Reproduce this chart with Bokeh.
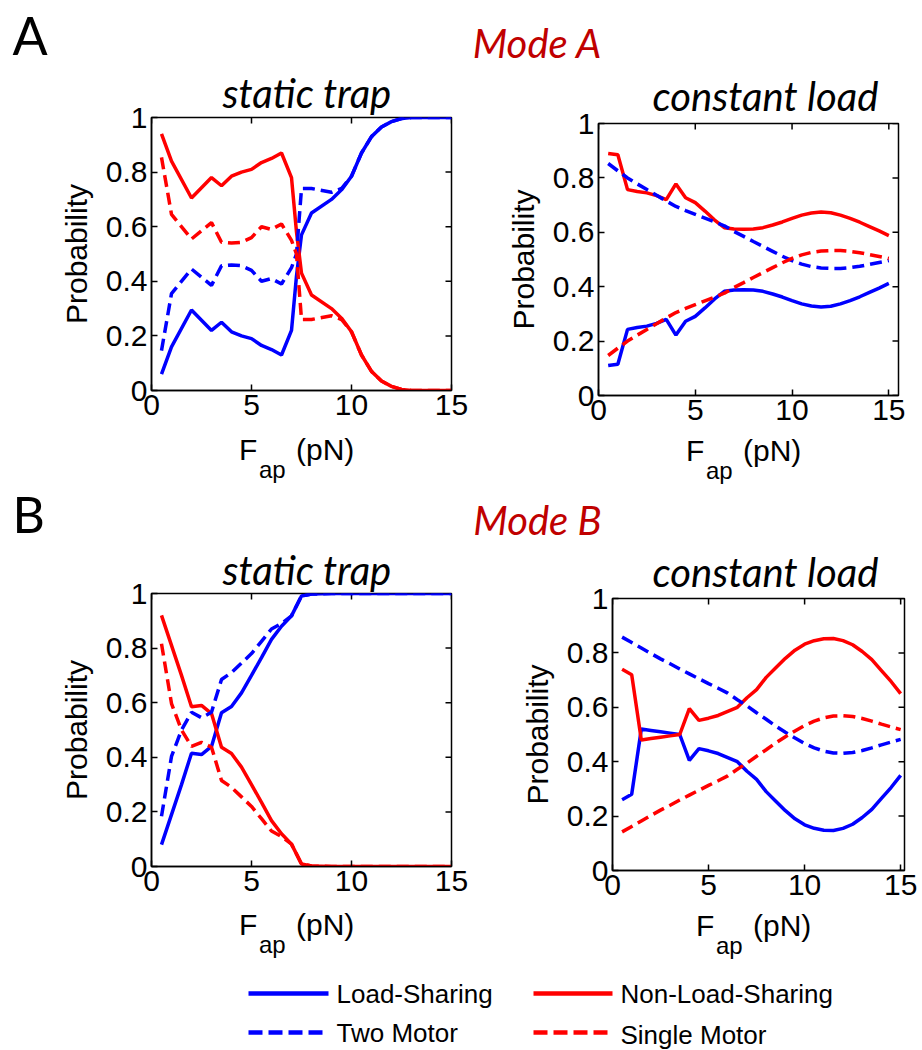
from bokeh.plotting import figure
from bokeh.layouts import column, row
from bokeh.models import Range1d, FixedTicker, LinearAxis, Title
from bokeh.core.properties import value
from bokeh.embed import file_html
from bokeh.resources import INLINE

# ---------------- data ----------------
x_a_static = [0.5, 1, 2, 3, 3.5, 4, 4.5, 5, 5.5, 6, 6.5, 7, 7.25, 7.5, 8, 9, 9.5, 10,
              10.5, 11, 11.5, 12, 12.5, 13, 14, 15]
a_static_ls = [0.06, 0.16, 0.295, 0.22, 0.25, 0.215, 0.20, 0.19, 0.165, 0.15, 0.13, 0.22, 0.42,
               0.57, 0.65, 0.70, 0.735, 0.785, 0.87, 0.93, 0.965, 0.985, 0.996, 1.0, 1.0, 1.0]
a_static_nls = [0.94, 0.84, 0.705, 0.78, 0.75, 0.785, 0.80, 0.81, 0.835, 0.85, 0.87, 0.78, 0.58,
                0.43, 0.35, 0.30, 0.265, 0.215, 0.13, 0.07, 0.035, 0.015, 0.004, 0.0, 0.0, 0.0]
a_static_two = [0.146, 0.355, 0.445, 0.385, 0.457, 0.46, 0.457, 0.44, 0.40, 0.41, 0.39, 0.45, 0.50,
                0.74, 0.74, 0.726, 0.74, 0.785, 0.87, 0.93, 0.965, 0.985, 0.996, 1.0, 1.0, 1.0]
a_static_single = [0.854, 0.645, 0.555, 0.615, 0.543, 0.54, 0.543, 0.56, 0.60, 0.59, 0.61, 0.55, 0.50,
                   0.26, 0.26, 0.274, 0.26, 0.215, 0.13, 0.07, 0.035, 0.015, 0.004, 0.0, 0.0, 0.0]

x_const = [0.5, 1, 1.5, 2, 2.5, 3, 3.5, 4, 4.5, 5, 5.5, 6, 6.5, 7, 7.5, 8, 8.5, 9, 9.5, 10,
           10.5, 11, 11.5, 12, 12.5, 13, 13.5, 14, 14.5, 15]
a_const_ls = [0.11, 0.115, 0.243, 0.25, 0.255, 0.265, 0.28, 0.222, 0.273, 0.291, 0.322, 0.355,
              0.383, 0.388, 0.389, 0.388, 0.383, 0.373, 0.362, 0.349, 0.337, 0.329, 0.325, 0.328,
              0.337, 0.349, 0.363, 0.379, 0.395, 0.412]
a_const_nls = [0.89, 0.885, 0.757, 0.75, 0.745, 0.735, 0.72, 0.778, 0.727, 0.709, 0.678, 0.645,
               0.617, 0.612, 0.611, 0.612, 0.617, 0.627, 0.638, 0.651, 0.663, 0.671, 0.675, 0.672,
               0.663, 0.651, 0.637, 0.621, 0.605, 0.588]
a_const_two = [0.853, 0.826, 0.80, 0.778, 0.757, 0.736, 0.715, 0.695, 0.68, 0.666, 0.652, 0.638,
               0.624, 0.603, 0.585, 0.566, 0.548, 0.53, 0.512, 0.496, 0.483, 0.474, 0.469, 0.467,
               0.467, 0.47, 0.475, 0.482, 0.489, 0.496]
a_const_single = [0.147, 0.174, 0.20, 0.222, 0.243, 0.264, 0.285, 0.305, 0.32, 0.334, 0.348, 0.362,
                  0.376, 0.397, 0.415, 0.434, 0.452, 0.47, 0.488, 0.504, 0.517, 0.526, 0.531, 0.533,
                  0.533, 0.53, 0.525, 0.518, 0.511, 0.504]

x_b_static = [0.5, 1, 1.5, 2, 2.5, 3, 3.5, 4, 4.5, 5, 5.5, 6, 6.5, 7, 7.5, 8, 9, 10, 11, 12,
              13, 14, 15]
b_static_ls = [0.08, 0.19, 0.30, 0.415, 0.41, 0.44, 0.563, 0.586, 0.636, 0.70, 0.765, 0.832, 0.88,
               0.918, 0.991, 0.998, 1.0, 1.0, 1.0, 1.0, 1.0, 1.0, 1.0]
b_static_nls = [0.92, 0.81, 0.70, 0.585, 0.59, 0.56, 0.437, 0.414, 0.364, 0.30, 0.235, 0.168, 0.12,
                0.082, 0.009, 0.002, 0.0, 0.0, 0.0, 0.0, 0.0, 0.0, 0.0]
b_static_two = [0.184, 0.403, 0.50, 0.565, 0.545, 0.565, 0.685, 0.71, 0.745, 0.78, 0.825, 0.87, 0.89,
                0.918, 0.991, 0.998, 1.0, 1.0, 1.0, 1.0, 1.0, 1.0, 1.0]
b_static_single = [0.816, 0.597, 0.50, 0.44, 0.455, 0.437, 0.315, 0.29, 0.255, 0.22, 0.175, 0.13,
                   0.11, 0.082, 0.009, 0.002, 0.0, 0.0, 0.0, 0.0, 0.0, 0.0, 0.0]

b_const_ls = [0.26, 0.28, 0.52, 0.515, 0.51, 0.505, 0.50, 0.405, 0.448, 0.44, 0.43, 0.415, 0.40,
              0.365, 0.335, 0.29, 0.255, 0.22, 0.19, 0.168, 0.155, 0.148, 0.147, 0.155, 0.17,
              0.195, 0.225, 0.265, 0.305, 0.35]
b_const_nls = [0.74, 0.72, 0.48, 0.485, 0.49, 0.495, 0.50, 0.595, 0.552, 0.56, 0.57, 0.585, 0.60,
               0.635, 0.665, 0.71, 0.745, 0.78, 0.81, 0.832, 0.845, 0.852, 0.853, 0.845, 0.83,
               0.805, 0.775, 0.735, 0.695, 0.65]
b_const_two = [0.858, 0.838, 0.818, 0.798, 0.778, 0.76, 0.741, 0.723, 0.705, 0.687, 0.67, 0.652,
               0.628, 0.605, 0.58, 0.556, 0.531, 0.508, 0.487, 0.467, 0.451, 0.439, 0.432, 0.431,
               0.434, 0.441, 0.451, 0.462, 0.472, 0.482]
b_const_single = [0.142, 0.162, 0.182, 0.202, 0.222, 0.24, 0.259, 0.277, 0.295, 0.313, 0.33, 0.348,
                  0.372, 0.395, 0.42, 0.444, 0.469, 0.492, 0.513, 0.533, 0.549, 0.561, 0.568, 0.569,
                  0.566, 0.559, 0.549, 0.538, 0.528, 0.518]

y_ticks = [0, 0.2, 0.4, 0.6, 0.8, 1]
y_tick_labels = ["0", "0.2", "0.4", "0.6", "0.8", "1"]
x_ticks = [0, 5, 10, 15]
series_names = ["Load-Sharing", "Non-Load-Sharing", "Two Motor", "Single Motor"]
panel_titles = ["static trap", "constant load"]
mode_titles = ["Mode A", "Mode B"]
panel_letters = ["A", "B"]

# ---------------- styles ----------------
AX_FONT = "Liberation Sans"
TI_FONT = "Lato"
BLUE = "#0000ff"
RED = "#ff0000"
DASH = "12 6"
LW = 3.5
TICK = 6
W = 922


def blank_fig(w, h):
    p = figure(width=w, height=h, x_range=Range1d(0, w), y_range=Range1d(0, h),
               x_axis_type=None, y_axis_type=None, min_border=0,
               output_backend="svg", toolbar_location=None)
    p.outline_line_color = None
    p.background_fill_color = "white"
    p.border_fill_color = "white"
    return p


def put_text(p, h, x, y_mid_from_top, txt, font, size, color="black", style="normal", align="left"):
    p.text(x=[x], y=[h - y_mid_from_top], text=[txt], text_font=value(font),
           text_font_size=value(size), text_font_style=style, text_color=color,
           text_align=align, text_baseline="middle")


def add_axes(p):
    left = LinearAxis(ticker=FixedTicker(ticks=y_ticks),
                      major_label_overrides={t: s for t, s in zip(y_ticks, y_tick_labels)},
                      axis_label="Probability")
    bottom = LinearAxis(ticker=FixedTicker(ticks=x_ticks))
    for ax in (left, bottom):
        ax.axis_line_color = "black"
        ax.axis_line_width = 1.5
        ax.major_tick_in = TICK
        ax.major_tick_out = 0
        ax.major_tick_line_width = 1.5
        ax.major_tick_line_color = "black"
        ax.minor_tick_line_color = None
        ax.major_label_text_font = AX_FONT
        ax.major_label_text_font_size = "30px"
        ax.major_label_text_color = "black"
        ax.major_label_standoff = 4
    left.axis_label_text_font = AX_FONT
    left.axis_label_text_font_size = "30px"
    left.axis_label_text_font_style = "normal"
    left.axis_label_text_color = "black"
    left.axis_label_standoff = 10
    p.add_layout(left, "left")
    p.add_layout(bottom, "below")


def make_panel(fw, fh, bl, br, bt, bb, xmax, title, title_left, title_standoff,
               x, ls, nls, two, single):
    p = figure(width=bl + fw + br, height=bt + fh + bb,
               x_range=Range1d(0, xmax), y_range=Range1d(0, 1),
               x_axis_type=None, y_axis_type=None,
               min_border_left=bl, min_border_right=br,
               min_border_top=bt, min_border_bottom=bb,
               output_backend="svg", toolbar_location=None)
    p.outline_line_color = "black"
    p.outline_line_width = 1.5
    p.background_fill_color = "white"
    p.border_fill_color = "white"
    add_axes(p)

    # inward ticks on the right and top edges of the box
    rx = xmax - TICK / fw * xmax
    p.segment(x0=[xmax] * len(y_ticks), y0=y_ticks, x1=[rx] * len(y_ticks), y1=y_ticks,
              line_color="black", line_width=1.5)
    ty = 1 - TICK / fh
    p.segment(x0=x_ticks, y0=[1] * len(x_ticks), x1=x_ticks, y1=[ty] * len(x_ticks),
              line_color="black", line_width=1.5)

    p.line(x, ls, line_color=BLUE, line_width=LW)
    p.line(x, nls, line_color=RED, line_width=LW)
    p.line(x, two, line_color=BLUE, line_width=LW, line_dash=DASH)
    p.line(x, single, line_color=RED, line_width=LW, line_dash=DASH)

    p.add_layout(Title(text=title, align="left", offset=title_left, standoff=title_standoff,
                       text_font=TI_FONT, text_font_style="italic", text_font_size="40px",
                       text_color="black"), "above")
    return p


def add_xlabel(p, h, frame_cx, f_mid, ap_mid):
    # "F" with subscript "ap", then "(pN)"
    put_text(p, h, frame_cx - 62.5, f_mid, "F", AX_FONT, "30px")
    put_text(p, h, frame_cx - 42.5, ap_mid, "ap", AX_FONT, "24px")
    put_text(p, h, frame_cx - 5.5, f_mid, "(pN)", AX_FONT, "30px")


# ---- header A (y 0..66)
H_A = 66
headA = blank_fig(W, H_A)
put_text(headA, H_A, 12, 34.5, panel_letters[0], TI_FONT, "52px")
put_text(headA, H_A, 537, 42, mode_titles[0], TI_FONT, "40px", color="#c00000",
         style="italic", align="center")

# ---- row A (y 66..432)
pAL = make_panel(300, 273, 151, 39, 51, 42, 15, panel_titles[0], 71, 1,
                 x_a_static, a_static_ls, a_static_nls, a_static_two, a_static_single)
pAR = make_panel(300, 272, 108, 24, 57, 37, 15.5, panel_titles[1], 54, 7,
                 x_const, a_const_ls, a_const_nls, a_const_two, a_const_single)

# ---- middle strip (y 432..543): x labels of row A + header B
H_M = 111
mid = blank_fig(W, H_M)
add_xlabel(mid, H_M, 301, 17.1, 37.2)
add_xlabel(mid, H_M, 748, 18.1, 38.2)
put_text(mid, H_M, 12, 81, panel_letters[1], TI_FONT, "50px")
put_text(mid, H_M, 537, 87, mode_titles[1], TI_FONT, "40px", color="#c00000",
         style="italic", align="center")

# ---- row B (y 543..907)
pBL = make_panel(300, 273, 151, 39, 50, 41, 15, panel_titles[0], 71, 0,
                 x_b_static, b_static_ls, b_static_nls, b_static_two, b_static_single)
pBR = make_panel(292, 272, 122, 18, 55, 37, 15.2, panel_titles[1], 40, 5,
                 x_const, b_const_ls, b_const_nls, b_const_two, b_const_single)

# ---- bottom strip (y 907..1050): x labels of row B + legend
H_B = 143
bot = blank_fig(W, H_B)
add_xlabel(bot, H_B, 301, 17.1, 37.2)
add_xlabel(bot, H_B, 490 + 122 + 146, 18.1, 38.2)
r1, r2 = H_B - 86, H_B - 125
bot.line([248, 328], [r1, r1], line_color=BLUE, line_width=4.5)
bot.line([533, 612], [r1, r1], line_color=RED, line_width=4.5)
bot.line([248, 328], [r2, r2], line_color=BLUE, line_width=4.5, line_dash="14 6")
bot.line([533, 612], [r2, r2], line_color=RED, line_width=4.5, line_dash="14 6")
bot.text(x=[336, 620, 336, 620], y=[r1, r1, r2, r2 - 2], text=series_names,
         text_font=value(AX_FONT), text_font_size=value("26px"), text_color="black",
         text_align="left", text_baseline="middle")

layout = column(
    headA,
    row(column(pAL), column(pAR)),
    mid,
    row(column(pBL), column(pBR)),
    bot,
)

open("out.html", "w").write(file_html(layout, INLINE))
